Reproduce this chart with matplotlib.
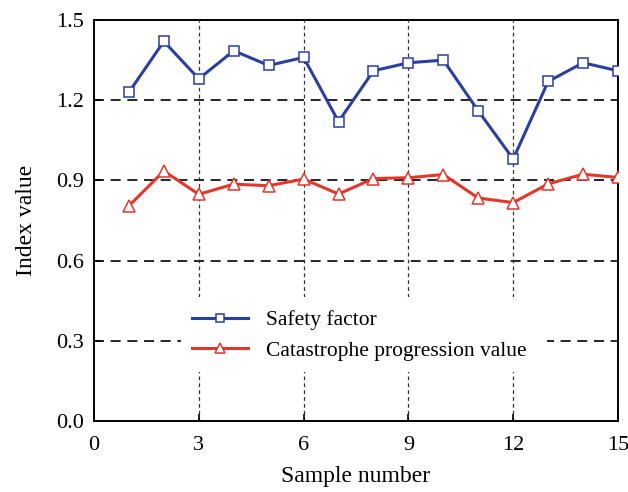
import matplotlib
matplotlib.use("Agg")
import matplotlib.pyplot as plt
from matplotlib.patches import Rectangle

plt.rcParams['font.family'] = ['Liberation Serif', 'DejaVu Serif']
plt.rcParams['mathtext.fontset'] = 'stix'

# data
samples = list(range(1, 16))
safety_factor = [1.23, 1.42, 1.28, 1.385, 1.33, 1.36, 1.12, 1.31, 1.34, 1.35,
                 1.16, 0.98, 1.27, 1.34, 1.31]
catastrophe = [0.805, 0.935, 0.848, 0.886, 0.88, 0.905, 0.849, 0.907, 0.91, 0.922,
               0.834, 0.817, 0.887, 0.923, 0.911]
x_ticks = [0, 3, 6, 9, 12, 15]
y_ticks = [0.0, 0.3, 0.6, 0.9, 1.2, 1.5]

blue = '#2b3f9e'
red = '#e4362b'

fig = plt.figure(figsize=(6.28, 4.92), dpi=100)
ax = fig.add_axes([94/628, 1 - 421/492, 524/628, 401/492])

ax.set_xlim(0, 15)
ax.set_ylim(0, 1.5)
ax.set_xticks(x_ticks)
ax.set_yticks(y_ticks)
ax.set_yticklabels([f"{v:.1f}" for v in y_ticks])
ax.tick_params(direction='in', length=5, width=1.2, labelsize=16)
ax.tick_params(axis='x', pad=11)
ax.tick_params(axis='y', pad=7)

# grid: long black dashes horizontally, short thin dashes vertically
for v in y_ticks[1:-1]:
    ax.axhline(v, color='black', lw=1.2, ls=(0, (6, 4)), zorder=1)
for v in x_ticks[1:-1]:
    ax.axvline(v, color='#333333', lw=0.9, ls=(0, (3, 2.5)), zorder=1)

for s in ax.spines.values():
    s.set_linewidth(1.4)

# white box behind the legend hides the grid
ax.add_patch(Rectangle((0.166, 0.122), 0.699, 0.187, transform=ax.transAxes,
                       facecolor='white', edgecolor='none', zorder=2))

ax.plot(samples, safety_factor, color=blue, lw=2.2, marker='s', ms=7,
        mfc='white', mec=blue, mew=1.1, label='Safety factor', zorder=3)
ax.plot(samples, catastrophe, color=red, lw=2.2, marker='^', ms=9,
        mfc='white', mec=red, mew=1.1, label='Catastrophe progression value', zorder=3)

ax.set_xlabel('Sample number', fontsize=17, labelpad=8)
ax.set_ylabel('Index value', fontsize=17, labelpad=14)

ax.legend(loc='upper left', bbox_to_anchor=((192 - 94)/524, (421 - 310)/401),
          frameon=False, fontsize=15.5, handlelength=2.6, handletextpad=0.85,
          labelspacing=0.5, borderaxespad=0, borderpad=0, markerscale=0.8)

fig.savefig('out.png', dpi=100)
